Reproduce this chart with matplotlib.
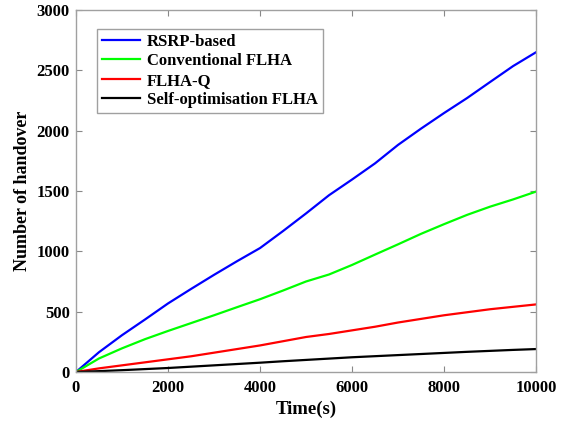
import numpy as np
import matplotlib
matplotlib.use("Agg")
import matplotlib.pyplot as plt
from matplotlib.font_manager import FontProperties

# simulation time (s)
time_s = [0, 500, 1000, 1500, 2000, 2500, 3000, 3500, 4000, 4500, 5000,
          5500, 6000, 6500, 7000, 7500, 8000, 8500, 9000, 9500, 10000]

rsrp_based = [0, 164, 305, 435, 568, 688, 805, 918, 1027, 1168, 1314,
              1465, 1595, 1729, 1882, 2017, 2146, 2270, 2403, 2535, 2650]
conventional_flha = [0, 112, 196, 272, 340, 405, 470, 537, 603, 675, 750,
                     808, 887, 973, 1058, 1145, 1225, 1302, 1370, 1430, 1495]
flha_q = [0, 30, 55, 80, 105, 130, 160, 190, 220, 255, 290,
          315, 345, 375, 410, 440, 470, 495, 520, 540, 560]
self_opt_flha = [0, 7, 15, 24, 33, 44, 55, 66, 77, 89, 100,
                 111, 122, 131, 140, 149, 158, 167, 175, 183, 190]

x_ticks = [0, 2000, 4000, 6000, 8000, 10000]
y_ticks = [0, 500, 1000, 1500, 2000, 2500, 3000]

series = [
    ("RSRP-based", rsrp_based, (0, 0, 1)),
    ("Conventional FLHA", conventional_flha, (0, 1, 0)),
    ("FLHA-Q", flha_q, (1, 0, 0)),
    ("Self-optimisation FLHA", self_opt_flha, (0, 0, 0)),
]

plt.rcParams["font.family"] = ["Liberation Serif", "DejaVu Serif"]
plt.rcParams["font.weight"] = "bold"

tick_fp = FontProperties(family="Liberation Serif", weight="bold", size=12)
xlab_fp = FontProperties(family="Liberation Serif", weight="bold", size=13.5)
ylab_fp = FontProperties(family="Liberation Serif", weight="bold", size=13)
leg_fp = FontProperties(family="Liberation Serif", weight="bold", size=12)

fig = plt.figure(figsize=(5.68, 4.23), dpi=100)
ax = fig.add_axes([0.1338, 0.1206, 0.81, 0.8558])

for label, vals, col in series:
    ax.plot(time_s, vals, color=col, lw=1.6, label=label)

ax.set_xlim(0, 10000)
ax.set_ylim(0, 3000)
ax.set_xticks(x_ticks, labels=[str(v) for v in x_ticks], fontproperties=tick_fp)
ax.set_yticks(y_ticks, labels=[str(v) for v in y_ticks], fontproperties=tick_fp)
ax.tick_params(direction="in", top=True, right=True,
               color="#888888", length=4)
ax.tick_params(axis="x", pad=6)
ax.tick_params(axis="y", pad=4.5)
for sp in ax.spines.values():
    sp.set_color("#a0a0a0")
    sp.set_linewidth(1.0)

ax.set_xlabel("Time(s)", fontproperties=xlab_fp, labelpad=3)
ax.set_ylabel("Number of handover", fontproperties=ylab_fp, labelpad=4)

leg = ax.legend(loc="upper left", bbox_to_anchor=(0.0457, 0.9475),
                borderaxespad=0, prop=leg_fp,
                handlelength=2.3, handletextpad=0.4, labelspacing=0.2,
                borderpad=0.3, fancybox=False, framealpha=1)
leg.get_frame().set_edgecolor("#a0a0a0")
leg.get_frame().set_linewidth(1.0)

fig.savefig("out.png", dpi=100)
